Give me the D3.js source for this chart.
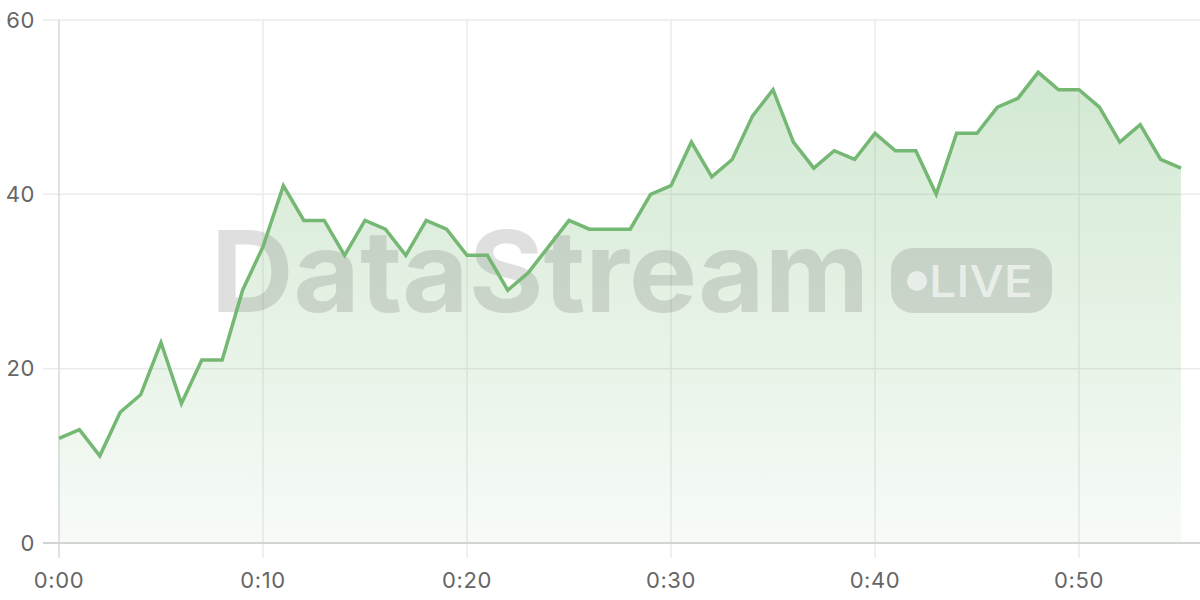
<!DOCTYPE html>
<html>
<head>
<meta charset="utf-8">
<script src="https://cdn.jsdelivr.net/npm/d3@7"></script>
<style>
  html, body { margin: 0; padding: 0; background: #fff; }
  svg { display: block; }
  .tick-label { font-family: Inter, "DejaVu Sans", sans-serif; font-size: 22px; letter-spacing: 0.6px; fill: #666; }
</style>
</head>
<body>
<svg id="chart"></svg>
<script>
// minutes since start, and the reading at each minute
const minutes = d3.range(0, 56)
const values = [12, 13, 10, 15, 17, 23, 16, 21, 21, 29,
                34, 41, 37, 37, 33, 37, 36, 33, 37, 36,
                33, 33, 29, 31, 34, 37, 36, 36, 36, 40,
                41, 46, 42, 44, 49, 52, 46, 43, 45, 44,
                47, 45, 45, 40, 47, 47, 50, 51, 54, 52,
                52, 50, 46, 48, 44, 43]
const xTicks = [0, 10, 20, 30, 40, 50]
const yTicks = [0, 20, 40, 60]

const width = 1200
const height = 600
const margin = { top: 20, right: 19, bottom: 57, left: 59 }

const svg = d3.select("#chart")
    .attr("width", width)
    .attr("height", height)

const data = minutes.map((m, i) => ({ m, v: values[i] }))

const x = d3.scaleLinear().domain([0, 55]).range([margin.left, width - margin.right])
const y = d3.scaleLinear().domain([0, 60]).range([height - margin.bottom, margin.top])

const fmt = m => `${Math.floor(m / 60)}:${String(m % 60).padStart(2, "0")}`

// gradient for the area
const defs = svg.append("defs")
const grad = defs.append("linearGradient")
    .attr("id", "areaFill")
    .attr("gradientUnits", "userSpaceOnUse")
    .attr("x1", 0).attr("x2", 0)
    .attr("y1", y(60)).attr("y2", y(0))
grad.append("stop").attr("offset", "0%").attr("stop-color", "#77bb77").attr("stop-opacity", 0.36)
grad.append("stop").attr("offset", "100%").attr("stop-color", "#77bb77").attr("stop-opacity", 0.06)

//horizontal grid
svg.append("g").selectAll("line")
    .data(yTicks.filter(d => d !== 0)).enter().append("line")
    .attr("x1", 43).attr("x2", width)
    .attr("y1", d => y(d)).attr("y2", d => y(d))
    .attr("stroke", "#ebebeb").attr("stroke-width", 1.5)

//vertical grid (runs past the axis as tick marks)
svg.append("g").selectAll("line")
    .data(xTicks).enter().append("line")
    .attr("x1", d => x(d)).attr("x2", d => x(d))
    .attr("y1", margin.top).attr("y2", y(0) + 15)
    .attr("stroke", d => d === 0 ? "#d9d9d9" : "#ebebeb").attr("stroke-width", 1.5)

//area
svg.append("path")
    .datum(data)
    .attr("fill", "url(#areaFill)")
    .attr("d", d3.area().x(d => x(d.m)).y0(y(0)).y1(d => y(d.v)))

//watermark
const wm = svg.append("g").attr("class", "watermark")
wm.append("text")
    .attr("x", 211).attr("y", 312)
    .attr("textLength", 658)
    .attr("lengthAdjust", "spacingAndGlyphs")
    .style("font-family", "Inter, 'Open Sans', sans-serif")
    .style("font-weight", 700)
    .style("font-size", "113px")
    .attr("fill", "rgb(110,110,110)").attr("fill-opacity", 0.22)
    .text("DataStream")
wm.append("rect")
    .attr("x", 891).attr("y", 248).attr("width", 161).attr("height", 65).attr("rx", 22)
    .attr("fill", "rgb(110,110,110)").attr("fill-opacity", 0.22)
wm.append("circle")
    .attr("cx", 917).attr("cy", 281).attr("r", 10)
    .attr("fill", "#fff").attr("fill-opacity", 0.6)
wm.append("text")
    .attr("x", 929).attr("y", 297)
    .attr("textLength", 104)
    .attr("lengthAdjust", "spacingAndGlyphs")
    .style("font-family", "Inter, 'Open Sans', sans-serif")
    .style("font-weight", 500)
    .style("font-size", "44px")
    .attr("fill", "#fff").attr("fill-opacity", 0.6)
    .text("LIVE")

//x axis baseline
svg.append("line")
    .attr("x1", 43).attr("x2", width)
    .attr("y1", y(0)).attr("y2", y(0))
    .attr("stroke", "#d4d4d4").attr("stroke-width", 2)

//line
svg.append("path")
    .datum(data)
    .attr("fill", "none")
    .attr("stroke", "#74b874")
    .attr("stroke-width", 3.5)
    .attr("stroke-linejoin", "miter")
    .attr("d", d3.line().x(d => x(d.m)).y(d => y(d.v)))

//labels
svg.append("g").selectAll("text")
    .data(yTicks).enter().append("text")
    .attr("class", "tick-label")
    .attr("x", 35)
    .attr("y", d => y(d))
    .attr("dy", "0.35em")
    .attr("text-anchor", "end")
    .text(d => d)

svg.append("g").selectAll("text")
    .data(xTicks).enter().append("text")
    .attr("class", "tick-label")
    .attr("x", d => x(d))
    .attr("y", 588)
    .attr("text-anchor", "middle")
    .text(d => fmt(d))
</script>
</body>
</html>
